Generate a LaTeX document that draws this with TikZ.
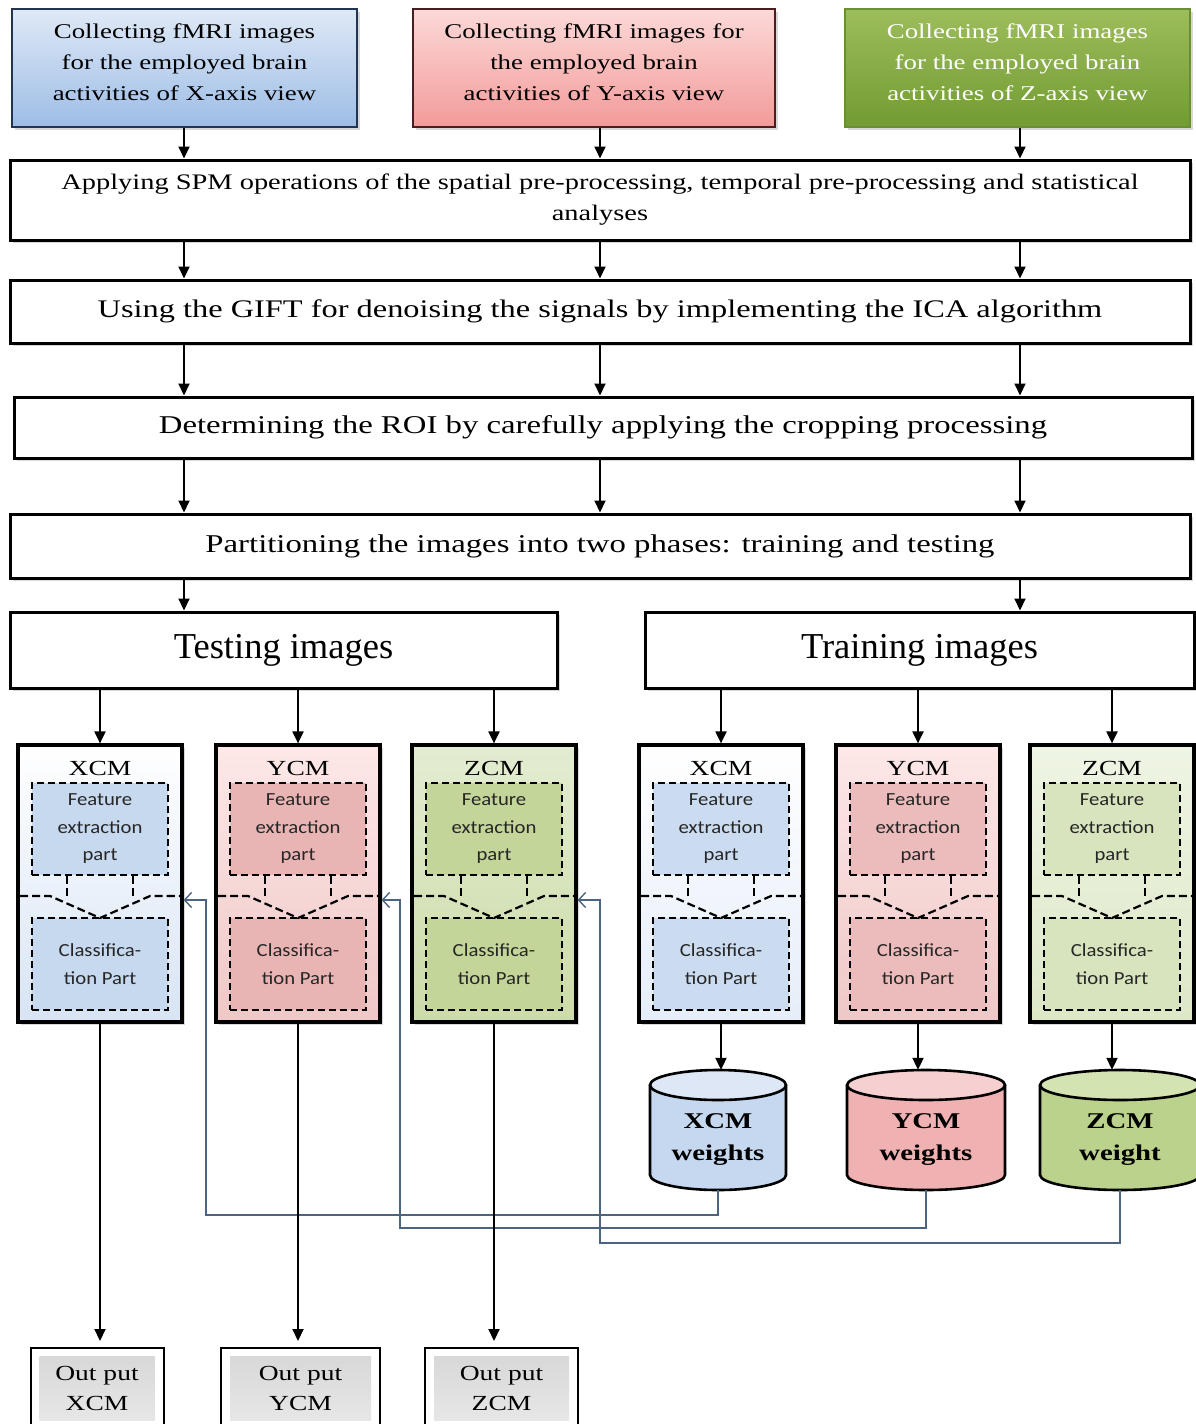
\documentclass[tikz,border=0pt]{standalone}
\usepackage{fontspec}
\setmainfont{Liberation Serif}[FakeStretch=1.28]
\newfontfamily\plainserif{Liberation Serif}
\newfontfamily\carl{Carlito}[FakeStretch=1.12]
\usetikzlibrary{arrows.meta,shadows,calc}
\definecolor{bxT}{HTML}{DFE9F7}\definecolor{bxB}{HTML}{9DBDE6}\definecolor{bxD}{HTML}{22344F}
\definecolor{pkT}{HTML}{FCD9D8}\definecolor{pkB}{HTML}{F29B99}\definecolor{pkD}{HTML}{4A1E1E}
\definecolor{grT}{HTML}{9DBD5B}\definecolor{grB}{HTML}{729B33}\definecolor{grD}{HTML}{6A8E33}
\definecolor{fbc}{HTML}{4D6480}
\definecolor{inB}{HTML}{C7D9EF}\definecolor{inBl}{HTML}{CCDCF0}
\definecolor{inP}{HTML}{E9B5B4}
\definecolor{inG}{HTML}{C3D598}\definecolor{inGl}{HTML}{D7E4BD}
\definecolor{cyB}{HTML}{C6D8EF}\definecolor{cyBt}{HTML}{DDE7F5}
\definecolor{cyP}{HTML}{EFB1B1}\definecolor{cyPt}{HTML}{F6D0D0}
\definecolor{cyG}{HTML}{BAD28B}\definecolor{cyGt}{HTML}{D4E3B2}
\definecolor{outG}{HTML}{D6D6D6}
\tikzset{
  arr/.style={line width=2pt,-{Triangle[length=12pt,width=11pt]}},
  fb/.style={draw=fbc,line width=1.8pt,-{Straight Barb[length=7pt,width=15pt,line width=1.4pt]}},
  shad/.style={drop shadow={shadow xshift=2.5pt,shadow yshift=-2.5pt,opacity=0.3}},
  wbox/.style={draw=black,line width=3pt,fill=white,inner sep=0pt,align=center,shad},
  topbox/.style={line width=2pt,inner sep=0pt,shad,minimum height=118pt},
  toptext/.style={inner sep=0pt,align=center,font=\fontsize{21}{31}\selectfont},
  mbox/.style={draw=black,line width=3.2pt,inner sep=0pt,minimum width=164pt,
    minimum height=277pt,shad},
  mtitle/.style={inner sep=0pt,font=\fontsize{21.5}{24}\selectfont},
  fpart/.style={draw=black,dashed,dash pattern=on 7pt off 4pt,line width=1.8pt,
    inner sep=0pt,minimum width=136pt,minimum height=92pt,align=center,
    text=black!85,font=\carl\fontsize{18.5}{27.5}\selectfont},
  dsh/.style={line width=2.2pt,dash pattern=on 8pt off 4pt},
  cyltext/.style={inner sep=0pt,align=center,font=\bfseries\fontsize{22.5}{32}\selectfont},
  obox/.style={draw=black,line width=2pt,fill=white,inner sep=0pt,align=center,
    minimum height=80pt,font=\fontsize{21.5}{30}\selectfont,
    path picture={\shade[top color=outG,bottom color=outG!55]
      ([shift={(9,8)}]path picture bounding box.north west) rectangle
      ([shift={(-9,-8)}]path picture bounding box.south east);}},
}
\newcommand{\mdl}[6]{%
  \node[mbox,top color=#3,bottom color=#4] (#1) at (#2,883.5) {};
  \node[mtitle] (#1t) at (#2,768) {#6};
  \node[fpart,fill=#5] (#1f) at (#2,829) {Feature\\extraction\\part};
  \node[fpart,fill=#5] (#1c) at (#2,964) {Classifica-\\tion Part};
  \draw[dsh] ({#2-33},876) -- ({#2-33},896);
  \draw[dsh] ({#2+33},876) -- ({#2+33},896);
  \draw[dsh] ({#2-80},896) -- ({#2-50},896) -- (#2,918) -- ({#2+50},896) -- ({#2+80},896);
}
\newcommand{\cyl}[6]{%
  \node[minimum width=#3pt,minimum height=120pt,inner sep=0pt] (#1) at (#2,1130) {};
  \fill[#4] ({#2-#3/2},1085) rectangle ({#2+#3/2},1175);
  \fill[#4] (#2,1175) ellipse [x radius=#3/2,y radius=15];
  \draw[line width=2.6pt] ({#2-#3/2},1085) -- ({#2-#3/2},1175)
     arc[start angle=180,end angle=0,x radius=#3/2,y radius=15] -- ({#2+#3/2},1085);
  \draw[line width=2.6pt,fill=#5] (#2,1085) ellipse [x radius=#3/2,y radius=15];
  \node[cyltext] (#1l) at (#2,1140) {#6};
}
\begin{document}
\begin{tikzpicture}[x=1pt,y=-1pt]
\fill[white] (0,0) rectangle (1196,1424);
\useasboundingbox (0,0) rectangle (1196,1424);

% top boxes
\node[topbox,top color=bxT,bottom color=bxB,draw=bxD,minimum width=345pt] (topX) at (184.5,68) {};
\node[toptext] (topXl) at (184.5,62) {Collecting fMRI images\\for the employed brain\\activities of X-axis view};
\node[topbox,top color=pkT,bottom color=pkB,draw=pkD,minimum width=362pt] (topY) at (594,68) {};
\node[toptext] (topYl) at (594,62) {Collecting fMRI images for\\the employed brain\\activities of Y-axis view};
\node[topbox,top color=grT,bottom color=grB,draw=grD,minimum width=345pt] (topZ) at (1017.5,68) {};
\node[toptext,text=white] (topZl) at (1017.5,62) {Collecting fMRI images\\for the employed brain\\activities of Z-axis view};

\coordinate (c1) at (184,0);
\coordinate (c2) at (600,0);
\coordinate (c3) at (1020,0);

% process boxes
\node[wbox,minimum width=1180pt,minimum height=80pt,font=\fontsize{22.2}{31}\selectfont] (SPM) at (600,200)
  {Applying SPM operations of the spatial pre-processing, temporal pre-processing and statistical\\analyses};
\node[wbox,minimum width=1180pt,minimum height=63pt,font=\fontsize{25.3}{30}\selectfont] (GIFT) at (600,311.5)
  {Using the GIFT for denoising the signals by implementing the ICA algorithm};
\node[wbox,minimum width=1178pt,minimum height=61pt,font=\fontsize{25.6}{30}\selectfont] (ROI) at (603,427.5)
  {Determining the ROI by carefully applying the cropping processing};
\node[wbox,minimum width=1180pt,minimum height=64pt,font=\fontsize{25.6}{30}\selectfont] (PART) at (600,546)
  {Partitioning the images into two phases: training and testing};
\node[wbox,minimum width=547pt,minimum height=76pt,font=\plainserif\fontsize{36.5}{40}\selectfont] (TEST) at (283.5,650)
  {Testing images};
\node[wbox,minimum width=549pt,minimum height=76pt,font=\plainserif\fontsize{36.5}{40}\selectfont] (TRAIN) at (919.5,650)
  {Training images};

\draw[arr] (c1 |- topX.south) -- (c1 |- SPM.north);
\draw[arr] (c2 |- topY.south) -- (c2 |- SPM.north);
\draw[arr] (c3 |- topZ.south) -- (c3 |- SPM.north);
\foreach \c in {c1,c2,c3}{
  \draw[arr] (\c |- SPM.south) -- (\c |- GIFT.north);
  \draw[arr] (\c |- GIFT.south) -- (\c |- ROI.north);
  \draw[arr] (\c |- ROI.south) -- (\c |- PART.north);
}
\draw[arr] (c1 |- PART.south) -- (c1 |- TEST.north);
\draw[arr] (c3 |- PART.south) -- (c3 |- TRAIN.north);

% model boxes
\mdl{tX}{100}{white}{bxT!70!inB}{inB}{XCM}
\mdl{tY}{298}{pkT!60!white}{inP!75!white}{inP}{YCM}
\mdl{tZ}{494}{inGl!70!white}{inG!85!white}{inG}{ZCM}
\mdl{rX}{721}{white}{bxT!80!white}{inBl}{XCM}
\mdl{rY}{918}{pkT!60!white}{inP!75!white}{inP!90!white}{YCM}
\mdl{rZ}{1112}{inGl!40!white}{inGl!85!white}{inGl}{ZCM}

\foreach \m in {tX,tY,tZ}{\draw[arr] (\m |- TEST.south) -- (\m.north);}
\foreach \m in {rX,rY,rZ}{\draw[arr] (\m |- TRAIN.south) -- (\m.north);}

% cylinders
\cyl{wX}{718}{136}{cyB}{cyBt}{XCM\\weights}
\cyl{wY}{926}{158}{cyP}{cyPt}{YCM\\weights}
\cyl{wZ}{1120}{160}{cyG}{cyGt}{ZCM\\weight}
\draw[arr] (rX.south) -- (rX.south |- wX.north);
\draw[arr] (rY.south) -- (rY.south |- wY.north);
\draw[arr] (rZ.south) -- (rZ.south |- wZ.north);

% feedback
\coordinate (kX) at (206,1215);
\coordinate (kY) at (400,1228);
\coordinate (kZ) at (600,1243);
\draw[fb] (wX.south) |- (kX) |- ([yshift=-16.5pt]tX.east);
\draw[fb] (wY.south) |- (kY) |- ([yshift=-16.5pt]tY.east);
\draw[fb] (wZ.south) |- (kZ) |- ([yshift=-16.5pt]tZ.east);

% outputs
\node[obox,minimum width=133pt] (oX) at (97,1388) {Out put\\XCM};
\node[obox,minimum width=159pt] (oY) at (300.5,1388) {Out put\\YCM};
\node[obox,minimum width=153pt] (oZ) at (501.5,1388) {Out put\\ZCM};
\draw[arr,shorten >=6pt] (tX.south) -- (tX.south |- oX.north);
\draw[arr,shorten >=6pt] (tY.south) -- (tY.south |- oY.north);
\draw[arr,shorten >=6pt] (tZ.south) -- (tZ.south |- oZ.north);
\end{tikzpicture}
\end{document}
